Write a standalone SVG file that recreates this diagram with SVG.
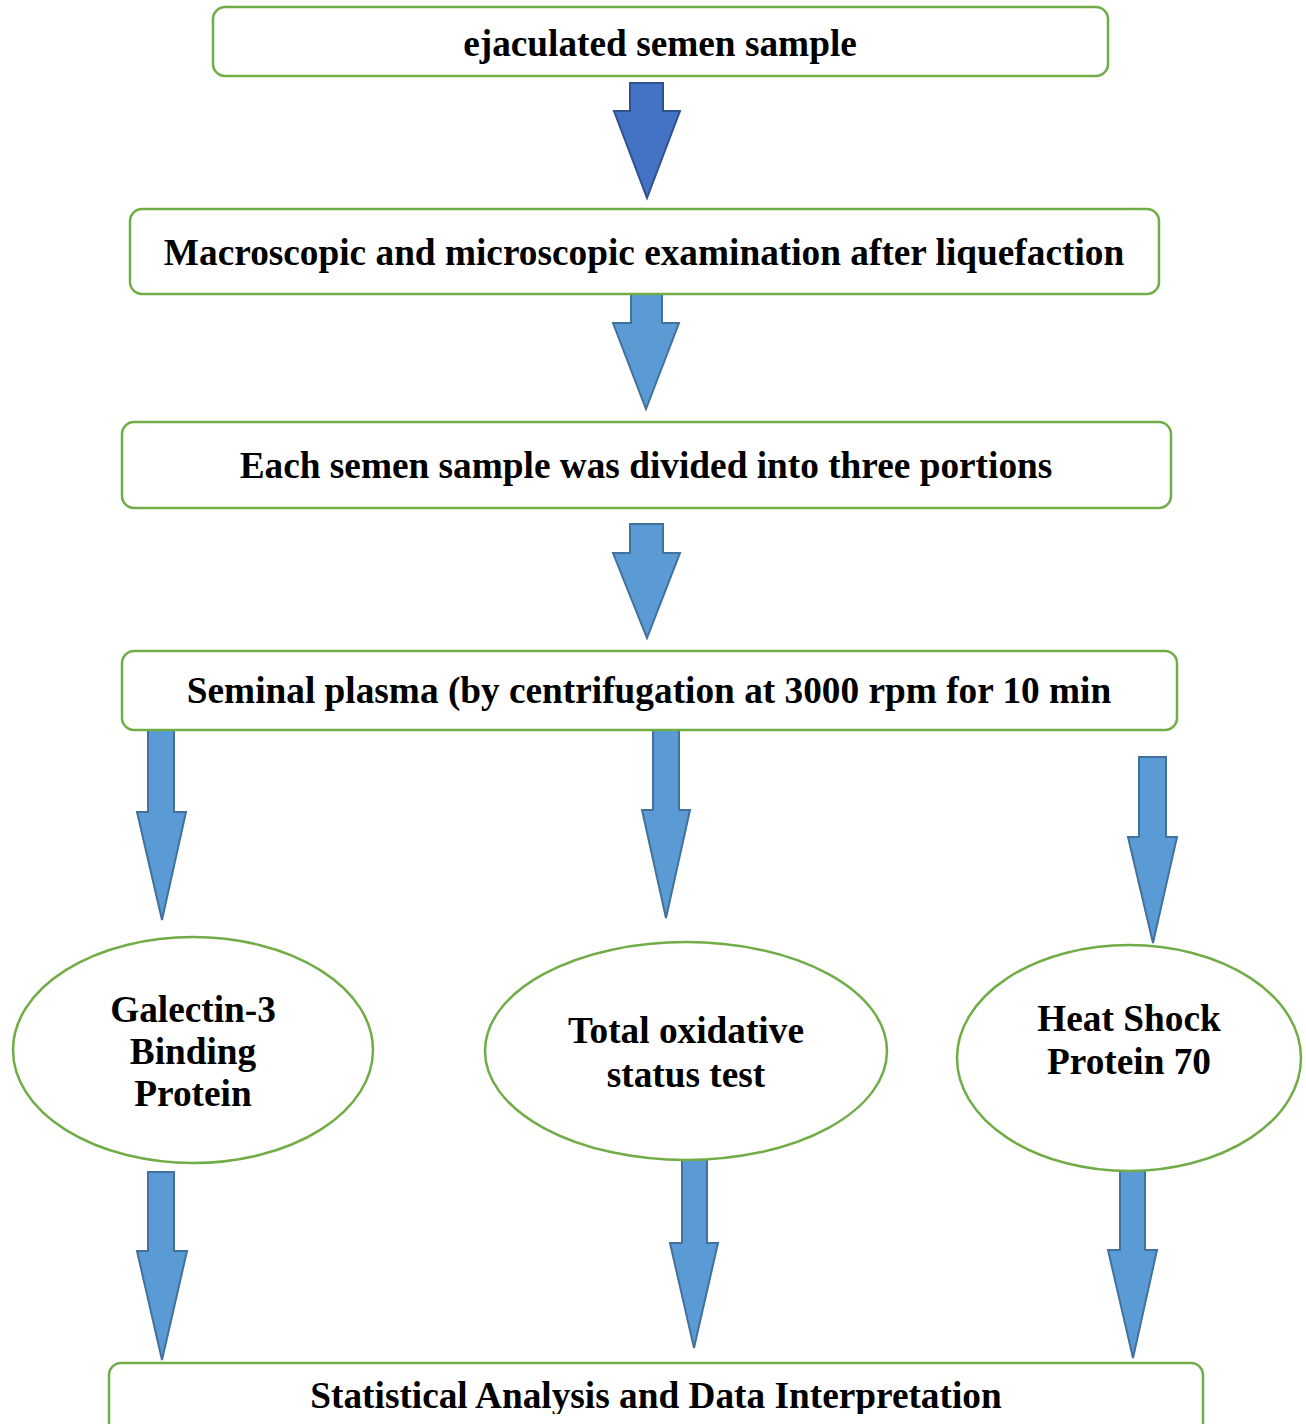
<svg xmlns="http://www.w3.org/2000/svg" width="1306" height="1424" viewBox="0 0 1306 1424">
<style>
.box{fill:#fff;stroke:#70AD47;stroke-width:2.5}
.t{font-family:"Liberation Serif","Times New Roman",serif;font-weight:bold;font-size:37.3px;fill:#000;text-anchor:middle}
.a1{fill:#4472C4;stroke:#2F528F;stroke-width:2;stroke-linejoin:miter}
.a2{fill:#5B9BD5;stroke:#41719C;stroke-width:2;stroke-linejoin:miter}
</style>
<defs><clipPath id="clip"><rect x="0" y="0" width="1306" height="1414"/></clipPath></defs>
<rect x="0" y="0" width="1306" height="1424" fill="#fff"/>
<g id="connectors">
<polygon class="a1" points="630,83 663,83 663,111 680,111 647,198 614,111 630,111"/>
<polygon class="a2" points="631,294 662,294 662,323 679,323 646,409 613,323 631,323"/>
<polygon class="a2" points="630,524 663,524 663,553 680,553 647,638 613,553 630,553"/>
<polygon class="a2" points="148,730 174,730 174,812 186,812 162,920 137,812 148,812"/>
<polygon class="a2" points="653,730 679,730 679,810 690,810 666,918 642,810 653,810"/>
<polygon class="a2" points="1139,757 1166,757 1166,837 1177,837 1153,943 1128,837 1139,837"/>
<polygon class="a2" points="148,1172 174,1172 174,1251 187,1251 162,1360 137,1251 148,1251"/>
<polygon class="a2" points="682,1160 707,1160 707,1243 718,1243 694,1348 670,1243 682,1243"/>
<polygon class="a2" points="1120,1171 1145,1171 1145,1250 1157,1250 1133,1358 1108,1250 1120,1250"/>
</g>
<g id="n1"><rect class="box" x="213" y="7" width="895" height="69" rx="12"/><text class="t" x="660" y="56">ejaculated semen sample</text></g>
<g id="n2"><rect class="box" x="130" y="209" width="1029" height="85" rx="12"/><text class="t" x="644" y="265">Macroscopic and microscopic examination after liquefaction</text></g>
<g id="n3"><rect class="box" x="122" y="422" width="1049" height="86" rx="12"/><text class="t" x="646" y="478">Each semen sample was divided into three portions</text></g>
<g id="n4"><rect class="box" x="122" y="651" width="1055" height="79" rx="12"/><text class="t" x="649" y="703">Seminal plasma (by centrifugation at 3000 rpm for 10 min</text></g>
<g id="n5"><ellipse class="box" cx="193" cy="1050" rx="180" ry="113"/><text class="t" x="193" y="1022">Galectin-3</text><text class="t" x="193" y="1064">Binding</text><text class="t" x="193" y="1106">Protein</text></g>
<g id="n6"><ellipse class="box" cx="686" cy="1051" rx="201" ry="109"/><text class="t" x="686" y="1043">Total oxidative</text><text class="t" x="686" y="1087">status test</text></g>
<g id="n7"><ellipse class="box" cx="1129" cy="1058" rx="172" ry="113"/><text class="t" x="1129" y="1031">Heat Shock</text><text class="t" x="1129" y="1074">Protein 70</text></g>
<g id="n8"><rect class="box" x="109" y="1363" width="1094" height="90" rx="12"/><text class="t" x="656" y="1408" clip-path="url(#clip)">Statistical Analysis and Data Interpretation</text></g>
</svg>
